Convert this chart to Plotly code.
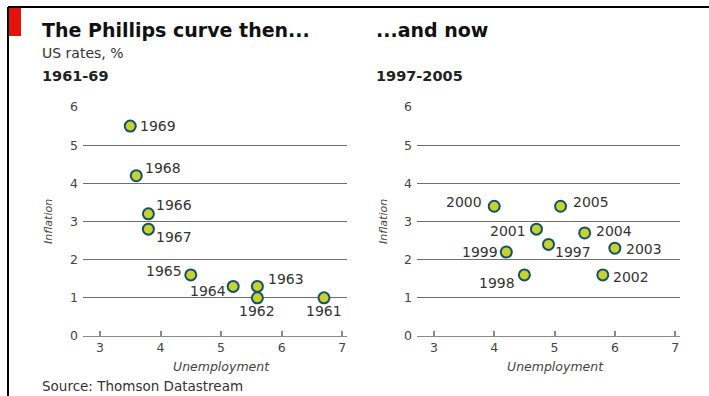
import plotly.graph_objects as go

# ---- data ----
years_then = ["1961", "1962", "1963", "1964", "1965", "1966", "1967", "1968", "1969"]
unemp_then = [6.7, 5.6, 5.6, 5.2, 4.5, 3.8, 3.8, 3.6, 3.5]
infl_then = [1.0, 1.0, 1.3, 1.3, 1.6, 3.2, 2.8, 4.2, 5.5]

years_now = ["1997", "1998", "1999", "2000", "2001", "2002", "2003", "2004", "2005"]
unemp_now = [4.9, 4.5, 4.2, 4.0, 4.7, 5.8, 6.0, 5.5, 5.1]
infl_now = [2.4, 1.6, 2.2, 3.4, 2.8, 1.6, 2.3, 2.7, 3.4]

x_ticks = [3, 4, 5, 6, 7]
y_ticks = [0, 1, 2, 3, 4, 5, 6]

# ---- label placement (style) : xanchor, xshift, yshift ----
place_then = {
    "1961": ("center", 0, -13), "1962": ("center", 0, -13), "1963": ("left", 9, 7),
    "1964": ("right", -5, -5), "1965": ("right", -7, 4), "1966": ("left", 6, 9),
    "1967": ("left", 6, -8), "1968": ("left", 7, 8), "1969": ("left", 8, 0),
}
place_now = {
    "1997": ("left", 4, -8), "1998": ("right", -7, -8), "1999": ("right", -6, 0),
    "2000": ("right", -10, 4), "2001": ("right", -8, -2), "2002": ("left", 8, -2),
    "2003": ("left", 9, -1), "2004": ("left", 9, 2), "2005": ("left", 10, 4),
}

W, H = 709, 396
FONT = "DejaVu Sans"
MARK_FILL = "#c5d32c"
MARK_LINE = "#17506c"
GRID = "#6e6e6e"
AXIS = "#8a8a8a"
TXT = "#333333"

fig = go.Figure()
for xs, ys, xa, ya in [(unemp_then, infl_then, "x", "y"), (unemp_now, infl_now, "x2", "y2")]:
    fig.add_trace(go.Scatter(
        x=xs, y=ys, xaxis=xa, yaxis=ya, mode="markers", cliponaxis=False,
        marker=dict(size=11, color=MARK_FILL, line=dict(color=MARK_LINE, width=2)),
        hoverinfo="skip", showlegend=False))

annotations = []
for yrs, xs, ys, xr, yr, place in [
    (years_then, unemp_then, infl_then, "x", "y", place_then),
    (years_now, unemp_now, infl_now, "x2", "y2", place_now),
]:
    for yrlbl, xv, yv in zip(yrs, xs, ys):
        anc, dx, dy = place[yrlbl]
        annotations.append(dict(
            x=xv, y=yv, xref=xr, yref=yr, text=yrlbl, showarrow=False,
            xanchor=anc, yanchor="middle", xshift=dx, yshift=dy,
            font=dict(family=FONT, size=14, color=TXT)))


def px(xp):
    return xp / W


def py(yp):
    return 1 - yp / H


# titles / texts
texts = [
    ("The Phillips curve then...", 40, 30, 19, True, "#111111"),
    ("...and now", 374, 30, 19, True, "#111111"),
    ("US rates, %", 40, 53, 14, False, TXT),
    ("1961-69", 40, 76, 14.5, True, "#222222"),
    ("1997-2005", 374, 76, 14.5, True, "#222222"),
    ("Source: Thomson Datastream", 40, 386, 13.5, False, TXT),
]
for t, x0, y0, sz, bold, col in texts:
    annotations.append(dict(
        x=px(x0), y=py(y0), xref="paper", yref="paper", showarrow=False,
        xanchor="left", yanchor="middle",
        text=f"<b>{t}</b>" if bold else t,
        font=dict(family=FONT, size=sz, color=col)))

# axis titles
for cx in (221, 555):
    annotations.append(dict(
        x=px(cx), y=py(366), xref="paper", yref="paper", showarrow=False,
        xanchor="center", yanchor="middle", text="<i>Unemployment</i>",
        font=dict(family=FONT, size=12.5, color="#444444")))
for cx in (49, 384):
    annotations.append(dict(
        x=px(cx), y=py(222), xref="paper", yref="paper", showarrow=False,
        xanchor="center", yanchor="middle", text="<i>Inflation</i>", textangle=-90,
        font=dict(family=FONT, size=11, color="#444444")))

shapes = [
    dict(type="rect", xref="paper", yref="paper", x0=px(9), x1=px(21), y0=py(8), y1=py(36),
         fillcolor="#e3120b", line=dict(width=0)),
    dict(type="line", xref="paper", yref="paper", x0=px(8), x1=1.0, y0=py(7), y1=py(7),
         line=dict(color="#000000", width=2)),
    dict(type="line", xref="paper", yref="paper", x0=px(8), x1=px(8), y0=py(7), y1=0,
         line=dict(color="#000000", width=2)),
]

xcommon = dict(range=[2.72, 7.08], tickvals=x_ticks, showgrid=False, zeroline=False,
               showline=True, linecolor=AXIS, linewidth=1, ticks="inside", ticklen=5,
               tickcolor=AXIS, tickwidth=1.5,
               tickfont=dict(family=FONT, size=12.5, color="#444444"),
               fixedrange=True, automargin=False)
ycommon = dict(range=[0, 6], tickvals=y_ticks, showgrid=True, gridcolor=GRID, gridwidth=1,
               zeroline=False, showline=False, ticks="", ticklabelstandoff=4,
               tickfont=dict(family=FONT, size=12.5, color="#444444"), fixedrange=True,
               automargin=False)

fig.update_layout(
    width=W, height=H, autosize=False,
    margin=dict(l=0, r=0, t=0, b=0, pad=0, autoexpand=False),
    paper_bgcolor="white", plot_bgcolor="white",
    xaxis=dict(domain=[px(83), px(347)], anchor="y", **xcommon),
    yaxis=dict(domain=[py(336), py(107)], anchor="x", **ycommon),
    xaxis2=dict(domain=[px(417), px(680)], anchor="y2", **xcommon),
    yaxis2=dict(domain=[py(336), py(107)], anchor="x2", **ycommon),
    annotations=annotations, shapes=shapes,
)

fig.write_html("out.html")
